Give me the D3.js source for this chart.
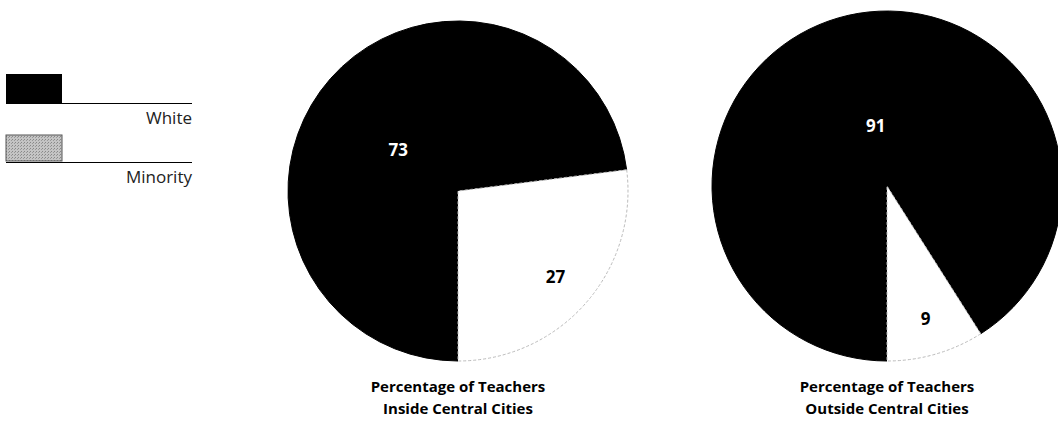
<!DOCTYPE html>
<html>
<head>
<meta charset="utf-8">
<script src="https://cdn.jsdelivr.net/npm/d3@7"></script>
<style>
  body { margin: 0; background: #fff; }
  svg { display: block; font-family: "Open Sans", "Noto Sans", sans-serif; }
</style>
</head>
<body>
<script>
// donnees
const groups = ["White", "Minority"];
const insideValues = [73, 27];
const outsideValues = [91, 9];
const chartTitles = [
  ["Percentage of Teachers", "Inside Central Cities"],
  ["Percentage of Teachers", "Outside Central Cities"]
];

const width = 1058, height = 426;

const svg = d3.select("body").append("svg")
  .attr("width", width)
  .attr("height", height);

// couleurs
const color = d3.scaleOrdinal().domain(groups).range(["#000", "#fff"]);

// motif gris pour la legende
const defs = svg.append("defs");
const pat = defs.append("pattern")
  .attr("id", "grain")
  .attr("width", 3).attr("height", 3)
  .attr("patternUnits", "userSpaceOnUse");
pat.append("rect").attr("width", 3).attr("height", 3).attr("fill", "#c4c4c4");
pat.append("rect").attr("x", 0).attr("y", 0).attr("width", 1).attr("height", 1).attr("fill", "#888");
pat.append("rect").attr("x", 2).attr("y", 1).attr("width", 1).attr("height", 1).attr("fill", "#999");

// legende
const legend = svg.append("g").attr("transform", "translate(6,74)");
groups.forEach((g, i) => {
  const row = legend.append("g").attr("transform", "translate(0," + i * 59 + ")");
  row.append("rect")
    .attr("width", 56).attr("height", i === 0 ? 29 : 26)
    .attr("y", i === 0 ? 0 : 2)
    .attr("fill", i === 0 ? "#000" : "url(#grain)")
    .attr("stroke", i === 0 ? "none" : "#555")
    .attr("stroke-width", 1);
  row.append("line")
    .attr("x1", 0).attr("x2", 186)
    .attr("y1", 29.5).attr("y2", 29.5)
    .attr("stroke", "#000").attr("stroke-width", 1);
  row.append("text")
    .attr("x", 186).attr("y", 50)
    .attr("text-anchor", "end")
    .style("font-size", "17px")
    .attr("fill", "#222")
    .text(g);
});

const pie = d3.pie().sort(null).startAngle(Math.PI).endAngle(3 * Math.PI);

function drawPie(values, cx, cy, r, titles, labelPos, labelShift) {
  const g = svg.append("g").attr("transform", "translate(" + cx + "," + cy + ")");
  const arc = d3.arc().innerRadius(0).outerRadius(r);
  const arcs = pie(values);

  g.selectAll("path")
    .data(arcs)
    .enter().append("path")
    .attr("d", arc)
    .attr("fill", (d, i) => color(groups[i]))
    .attr("stroke", (d, i) => i === 0 ? "#000" : "#bbb")
    .attr("stroke-dasharray", (d, i) => i === 0 ? null : "3,2")
    .attr("stroke-width", 1);

  // etiquettes
  g.selectAll("text.val")
    .data(arcs)
    .enter().append("text")
    .attr("class", "val")
    .attr("transform", (d, i) => {
      const c = d3.arc().innerRadius(r * labelPos[i]).outerRadius(r * labelPos[i]).centroid(d);
      return "translate(" + (c[0] + labelShift[i][0]) + "," + (c[1] + labelShift[i][1]) + ")";
    })
    .attr("text-anchor", "middle")
    .attr("dy", "0.35em")
    .style("font-size", "17px")
    .style("font-weight", "bold")
    .attr("fill", (d, i) => i === 0 ? "#fff" : "#000")
    .text(d => d.data);

  const t = svg.append("text")
    .attr("x", cx)
    .attr("y", 392)
    .attr("text-anchor", "middle")
    .style("font-size", "15px")
    .style("font-weight", "bold");
  titles.forEach((line, i) => {
    t.append("tspan").attr("x", cx).attr("dy", i === 0 ? 0 : 22).text(line);
  });
}

drawPie(insideValues, 458, 191, 170, chartTitles[0], [0.43, 0.765], [[-5, 7], [0, 0]]);
drawPie(outsideValues, 887, 186, 175, chartTitles[1], [0.354, 0.79], [[6, 0], [0, 0]]);
</script>
</body>
</html>
